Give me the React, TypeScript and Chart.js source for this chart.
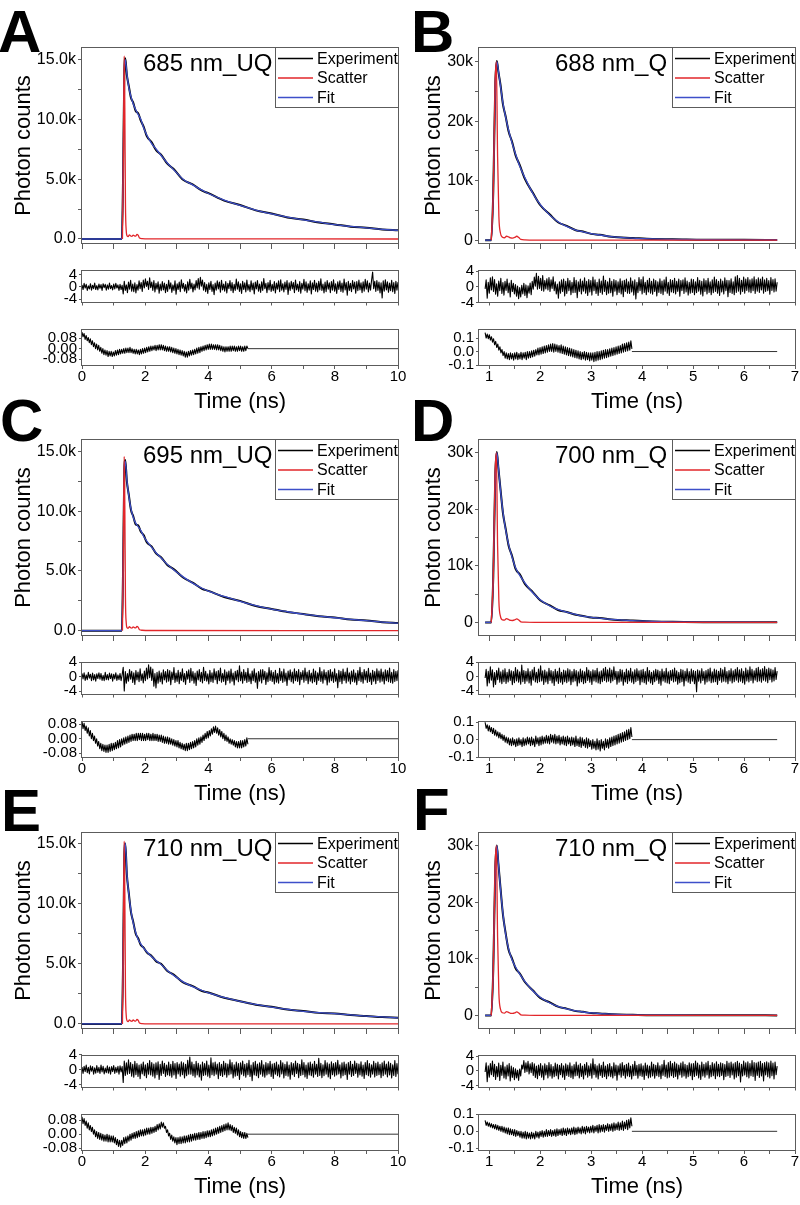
import React, { useEffect, useRef } from "react";
import { Chart, registerables } from "chart.js";
Chart.register(...registerables);

const FONT = '"Liberation Sans", Arial, Helvetica, sans-serif';

// ---------------- data ----------------
// Main decay curves: time grids (ns) and photon counts
const T_UQ = [0, 1.26, 1.30, 1.34, 1.37, 1.42, 1.48, 1.55, 1.62, 1.70, 1.78, 1.86, 1.95, 2.05, 2.2, 2.35, 2.5, 2.7, 2.9, 3.2, 3.5, 3.8, 4.0, 4.5, 5.0, 5.5, 6.0, 6.5, 7.0, 7.5, 8.0, 8.5, 9.0, 9.5, 10];
const T_Q = [0.92, 1.04, 1.08, 1.12, 1.15, 1.18, 1.22, 1.27, 1.32, 1.38, 1.45, 1.52, 1.6, 1.7, 1.86, 2.0, 2.19, 2.35, 2.52, 2.7, 2.84, 3.0, 3.17, 3.4, 3.82, 4.2, 4.6, 5.2, 6.0, 6.65];

const FIT_A = [0, 0, 5000, 14000, 15000, 13800, 12700, 11900, 11300, 10800, 10400, 10000, 9300, 8700, 8000, 7500, 7000, 6350, 5800, 5000, 4520, 4080, 3800, 3250, 2800, 2420, 2100, 1830, 1600, 1400, 1200, 1050, 920, 810, 720];
const EXP_A = [0, 0, 5200, 14100, 15100, 13700, 12800, 11800, 11400, 10700, 10500, 9900, 9400, 8600, 8100, 7400, 7050, 6300, 5850, 4950, 4560, 4040, 3830, 3210, 2840, 2390, 2130, 1800, 1620, 1380, 1220, 1030, 940, 800, 730];
const FIT_C = [0, 0, 5000, 13500, 14200, 12600, 11300, 10200, 9500, 9000, 8700, 8400, 7900, 7500, 7000, 6500, 6100, 5550, 5100, 4500, 3980, 3550, 3300, 2860, 2460, 2100, 1800, 1580, 1380, 1220, 1080, 950, 830, 710, 620];
const EXP_C = [0, 0, 5100, 13600, 14300, 12500, 11400, 10100, 9600, 8900, 8800, 8300, 8000, 7400, 7050, 6450, 6150, 5500, 5150, 4450, 4020, 3500, 3330, 2820, 2490, 2070, 1820, 1560, 1400, 1200, 1100, 930, 850, 700, 630];
const FIT_E = [0, 0, 5000, 14000, 15000, 12500, 10800, 9400, 8400, 7600, 7000, 6650, 6300, 6000, 5600, 5250, 4950, 4450, 4050, 3500, 3100, 2780, 2580, 2200, 1870, 1620, 1400, 1220, 1050, 940, 860, 760, 650, 580, 510];
const EXP_E = [0, 0, 5100, 14100, 15000, 12400, 10900, 9300, 8500, 7500, 7100, 6550, 6350, 5950, 5650, 5200, 5000, 4400, 4100, 3450, 3140, 2740, 2610, 2170, 1890, 1600, 1420, 1200, 1070, 920, 870, 740, 660, 570, 520];

const FIT_B = [0, 0, 8000, 26000, 30000, 28500, 26000, 23000, 20800, 18500, 16300, 14400, 12400, 10500, 7800, 6000, 4200, 3100, 2300, 1700, 1400, 1100, 860, 600, 330, 200, 130, 70, 30, 20];
const EXP_B = [0, 0, 8200, 26300, 30100, 28300, 26200, 22800, 20900, 18300, 16500, 14200, 12600, 10300, 7900, 5900, 4300, 3000, 2400, 1650, 1450, 1050, 900, 570, 360, 180, 150, 60, 50, 10];
const FIT_D = [0, 0, 8000, 26000, 30000, 27500, 23500, 19500, 16500, 13800, 11500, 9600, 8300, 7000, 5200, 4000, 2900, 2300, 1800, 1400, 1100, 900, 750, 550, 300, 180, 110, 60, 30, 20];
const EXP_D = [0, 0, 8100, 26200, 30100, 27300, 23700, 19300, 16700, 13600, 11700, 9400, 8500, 6800, 5300, 3900, 3000, 2200, 1850, 1350, 1150, 850, 780, 520, 320, 160, 120, 50, 40, 10];
const FIT_F = [0, 0, 8000, 26000, 30000, 27000, 22500, 18000, 14500, 11800, 9800, 8500, 7300, 6000, 4300, 3200, 2200, 1600, 1150, 800, 600, 450, 330, 220, 100, 60, 40, 20, 10, 10];
const EXP_F = [0, 0, 8200, 26100, 30000, 26800, 22700, 17800, 14700, 11600, 10000, 8300, 7400, 5900, 4400, 3100, 2300, 1550, 1200, 760, 630, 420, 350, 200, 110, 50, 50, 10, 20, 0];

// Scatter (instrument response)
const SC_T_UQ = [1.28, 1.31, 1.335, 1.355, 1.375, 1.40, 1.43, 1.46, 1.50, 1.54, 1.58, 1.62, 1.66, 1.70, 1.74, 1.78, 1.82, 1.9, 2.1, 10];
const SC_A = [0, 7000, 15300, 11000, 3000, 700, 250, 200, 350, 250, 220, 330, 260, 240, 380, 300, 80, 30, 10, 0];
const SC_C = [0, 7000, 14600, 10500, 2800, 650, 230, 200, 330, 240, 210, 320, 250, 230, 360, 280, 70, 30, 10, 0];
const SC_E = [0, 7000, 15200, 11000, 3000, 700, 250, 200, 340, 250, 220, 330, 260, 240, 370, 290, 80, 30, 10, 0];
const SC_T_Q = [1.04, 1.08, 1.115, 1.14, 1.165, 1.19, 1.22, 1.26, 1.30, 1.34, 1.38, 1.42, 1.46, 1.50, 1.54, 1.58, 1.62, 1.7, 1.9, 6.65];
const SC_B = [0, 8000, 26000, 30000, 14000, 4000, 1200, 500, 400, 650, 550, 380, 350, 450, 650, 450, 120, 40, 10, 0];
const SC_D = [0, 8000, 26000, 30000, 13500, 3800, 1100, 450, 420, 680, 520, 360, 340, 430, 620, 430, 110, 40, 10, 0];
const SC_F = [0, 8000, 26000, 30000, 13800, 3900, 1150, 480, 410, 660, 540, 370, 350, 440, 640, 440, 115, 40, 10, 0];

// Weighted residuals (evenly spaced channels over the fit window)
const RES_SPAN_UQ = [0, 10];
const RES_SPAN_Q = [0.92, 6.65];
const RES_A = [
  0.6, -0.9, 1.1, -0.4, 0.8, -1.2, 0.3, -0.7, 1.0, -1.1, 0.5, -0.6, 1.2, -0.9, 0.4, -1.0, 0.9, -0.5, 0.7, -1.2,
  1.0, -0.3, 0.8, -1.1, 0.6, -0.8, 1.2, -0.6, 0.4, -1.0, 0.9, -0.7, 1.1, -0.4, 0.6, -1.2, 0.8, -0.9, 0.5, -2.3,
  1.8, -1.2, 0.6, -1.9, 1.5, -0.8, 2.1, -1.4, 0.9, -1.6, 1.3, -2.0, 0.7, -1.1, 1.9, -0.6, 1.4, -1.5, 2.2, -0.4,
  2.6, 0.1, 1.8, -0.9, 2.9, -0.3, 1.5, -1.2, 2.0, -1.7, 1.1, -0.8, 1.6, -2.1, 0.9, -1.3, 1.7, -1.0, 1.2, -1.9,
  0.8, -1.5, 2.1, -0.7, 1.3, -1.8, 0.6, -1.2, 1.9, -2.4, 1.0, -0.9, 1.5, -1.6, 2.3, -0.5, 1.1, -1.4, 0.7, -2.0,
  1.6, -1.1, 2.4, -0.6, 1.2, -1.7, 0.9, -1.0, 2.0, -0.4, 2.7, -0.8, 3.1, 0.2, 2.2, -1.1, 1.4, -1.6, 0.8, -2.2,
  1.3, -0.9, 1.8, -1.5, 0.7, -2.6, 1.2, -1.1, 1.9, -0.7, 1.5, -1.8, 2.1, -1.0, 0.9, -1.4, 1.7, -2.0, 1.1, -0.6,
  2.0, -1.3, 1.4, -1.9, 0.8, -1.2, 2.5, -0.8, 1.6, -1.5, 1.0, -2.2, 1.8, -0.9, 1.3, -1.7, 2.2, -1.1, 0.7, -1.6,
  1.9, -1.0, 1.2, -2.3, 1.5, -0.7, 2.0, -1.4, 0.9, -1.8, 1.6, -1.2, 2.7, -0.6, 1.1, -1.9, 1.4, -1.0, 2.1, -1.5,
  0.8, -1.3, 1.7, -2.0, 1.2, -0.8, 1.9, -1.6, 2.3, -1.1, 1.0, -1.7, 1.5, -0.9, 2.0, -2.5, 1.3, -1.2, 1.8, -0.7,
  1.4, -1.9, 2.2, -1.0, 0.9, -1.5, 1.7, -2.1, 1.1, -0.8, 2.4, -1.3, 1.6, -1.8, 1.0, -1.1, 1.9, -2.3, 1.3, -0.9,
  2.1, -1.4, 1.2, -1.7, 1.8, -1.0, 2.6, -1.2, 0.9, -2.0, 1.5, -1.6, 2.0, -0.8, 1.3, -1.9, 1.7, -1.1, 2.3, -1.4,
  1.0, -2.2, 1.6, -0.9, 1.9, -1.5, 1.2, -1.8, 2.5, -1.0, 1.4, -2.7, 1.8, -1.2, 1.1, -1.6, 2.0, -0.7, 1.5, -2.1,
  1.7, -1.3, 2.2, -1.0, 1.3, -1.9, 1.6, -1.4, 2.4, -0.8, 1.9, -1.7, 1.2, -1.1, 2.1, 4.8, -0.6, 1.8, -1.5, 2.0,
  -1.2, 1.5, -2.0, 1.3, -3.6, 1.9, -1.4, 2.3, -1.0, 1.6, -1.8, 1.2, -1.3, 2.1, -1.6, 1.4, -2.2, 1.8, -1.1, 1.5,
];
const RES_C = [
  0.9, -0.6, 1.1, -1.0, 0.5, -0.8, 1.2, -0.4, 0.7, -1.1, 1.0, -0.9, 0.6, -1.2, 0.8, -0.5, 1.1, -0.7, 0.9, -1.0,
  0.4, -1.1, 1.2, -0.8, 0.6, -0.9, 1.0, -0.5, 0.8, -1.2, 0.7, -0.6, 1.1, -1.0, 0.5, -0.8, 0.9, -1.1, 0.6, 2.6,
  -3.9, 1.4, -1.8, 0.9, -1.2, 2.0, -0.7, 1.5, -1.6, 1.1, -2.1, 1.7, -0.9, 1.3, -1.4, 2.2, -1.0, 0.8, -1.7, 1.6,
  -1.1, 2.4, -0.6, 3.3, -0.3, 2.7, -1.0, 2.1, -2.6, 0.9, -3.1, 1.2, -1.8, 1.6, -1.4, 1.1, -2.0, 1.9, -0.9, 1.4,
  -1.5, 2.0, -1.2, 1.7, -2.2, 1.3, -0.8, 2.5, -1.6, 1.0, -1.3, 1.8, -1.9, 1.2, -1.0, 2.2, -1.4, 0.9, -2.1, 1.5,
  -0.7, 1.9, -1.6, 2.3, -1.1, 1.4, -1.8, 1.0, -2.4, 1.6, -0.9, 2.0, -1.3, 1.2, -1.7, 2.6, -1.0, 1.5, -1.2, 0.8,
  -2.0, 1.8, -1.4, 1.1, -1.6, 2.2, -0.8, 1.4, -1.9, 1.7, -1.1, 2.4, -1.5, 0.9, -1.3, 1.9, -2.2, 1.3, -1.0, 1.6,
  -1.7, 2.1, -1.2, 1.0, -2.3, 1.5, -0.9, 1.8, -1.4, 3.0, -1.1, 1.3, -1.8, 2.0, -1.0, 1.2, -1.6, 2.3, -1.3, 0.8,
  -1.9, 1.6, -1.1, 2.2, -1.5, 1.0, -3.2, 1.4, -1.2, 1.9, -1.7, 2.0, -0.8, 1.5, -2.1, 1.1, -1.4, 2.5, -1.0, 1.7,
  -1.3, 1.2, -2.0, 1.8, -1.5, 0.9, -1.8, 2.3, -1.0, 1.4, -1.6, 2.1, -1.2, 1.0, -2.4, 1.6, -0.9, 1.9, -1.4, 1.3,
  -1.8, 2.2, -1.1, 1.5, -1.3, 2.0, -2.2, 1.2, -0.8, 1.7, -1.5, 2.4, -1.0, 1.3, -1.9, 1.8, -1.2, 1.0, -1.7, 2.1,
  -1.4, 1.6, -2.1, 1.1, -1.0, 2.5, -1.3, 1.4, -1.8, 1.9, -0.9, 1.2, -2.3, 1.7, -1.5, 2.0, -1.1, 1.3, -1.6, 2.2,
  -1.2, 0.9, -3.0, 1.8, -1.4, 1.5, -1.9, 2.1, -1.0, 1.3, -1.7, 2.4, -1.2, 1.1, -2.0, 1.6, -1.3, 1.9, -1.5, 1.0,
  -2.2, 1.7, -1.1, 2.6, -1.4, 1.2, -1.8, 2.0, -0.9, 1.5, -1.6, 2.3, -1.3, 1.0, -2.1, 1.8, -1.2, 1.4, -1.9, 2.2,
  -1.0, 1.6, -1.5, 2.1, -1.2, 1.3, -2.0, 1.9, -1.1, 1.7, -1.4, 2.4, -1.6, 1.2, -1.8, 2.0, -1.3, 1.5, -1.1, 1.8,
];
const RES_E = [
  0.7, -1.0, 0.9, -0.5, 1.2, -0.8, 0.6, -1.1, 1.0, -0.4, 0.8, -1.2, 0.5, -0.9, 1.1, -0.7, 0.6, -1.0, 1.2, -0.6,
  0.9, -1.1, 0.4, -0.8, 1.0, -0.9, 0.7, -1.2, 0.8, -0.5, 1.1, -1.0, 0.6, -0.7, 0.9, -1.2, 1.0, -0.6, 0.8, -3.4,
  2.3, -1.5, 1.8, -1.2, 2.6, -1.0, 1.9, -1.7, 1.4, -2.0, 2.2, -1.3, 1.6, -1.8, 1.2, -2.4, 1.5, -1.1, 2.0, -1.6,
  1.3, -2.1, 1.7, -1.2, 2.4, -1.4, 1.9, -1.7, 1.5, -2.2, 1.8, -1.3, 2.1, -2.6, 1.4, -1.5, 2.3, -1.0, 1.7, -1.8,
  1.2, -1.4, 2.0, -1.6, 1.4, -2.0, 2.2, -1.4, 1.6, -2.3, 1.9, -1.1, 1.5, -1.7, 2.1, -1.3, 1.8, -2.2, 1.4, -1.6,
  2.5, -1.2, 3.3, -1.2, 2.0, -1.6, 1.4, -2.0, 2.2, -1.4, 1.7, -1.9, 1.3, -2.8, 2.0, -1.5, 1.6, -1.4, 2.3, -1.7,
  1.2, -2.1, 3.1, -1.3, 1.8, -1.6, 2.0, -1.2, 1.5, -2.4, 1.9, -1.5, 1.4, -1.8, 2.2, -1.3, 1.7, -2.0, 1.5, -1.4,
  2.6, -1.1, 1.9, -2.2, 1.3, -1.7, 2.0, -1.5, 1.6, -2.6, 1.8, -1.2, 2.3, -1.6, 1.4, -2.0, 1.7, -1.3, 2.5, -1.8,
  1.2, -2.9, 1.9, -1.4, 2.2, -1.6, 1.5, -2.1, 1.8, -1.2, 2.4, -1.7, 1.3, -2.0, 1.9, -1.4, 1.6, -1.1, 2.2, -1.8,
  1.5, -2.3, 1.7, -1.2, 2.0, -1.6, 1.3, -1.9, 2.4, -1.1, 1.8, -2.2, 1.4, -1.5, 2.1, -1.7, 1.2, -2.5, 1.9, -1.3,
  1.6, -1.8, 2.3, -1.0, 1.7, -2.1, 1.4, -1.5, 2.6, -1.3, 1.9, -1.9, 1.2, -2.3, 1.8, -1.4, 2.0, -1.6, 1.5, -2.0,
  2.2, -1.2, 1.4, -1.8, 3.0, -1.5, 1.7, -2.1, 1.3, -1.6, 2.4, -1.2, 1.8, -1.9, 1.5, -2.4, 2.1, -1.3, 1.6, -1.7,
  1.9, -1.4, 2.5, -1.1, 1.3, -2.2, 1.8, -1.6, 2.0, -1.3, 1.5, -2.6, 1.9, -1.2, 2.2, -1.8, 1.4, -1.5, 2.3, -1.0,
  1.7, -2.0, 1.5, -1.4, 2.1, -1.7, 1.2, -2.3, 1.9, -1.3, 2.4, -1.6, 1.6, -2.0, 1.3, -1.2, 2.2, -1.9, 1.7, -1.5,
  2.0, -1.3, 1.4, -2.1, 1.8, -1.6, 2.3, -1.2, 1.5, -1.9, 2.1, -1.4, 1.7, -2.2, 1.3, -1.5, 2.4, -1.8, 1.6, -1.2,
];
const RES_B = [
  -0.5, 1.8, -2.9, 1.2, -1.6, 2.3, -0.8, 2.6, -1.2, 1.9, -1.9, 0.8, -2.4, 1.5, -1.0, 2.2, -1.7, 1.1, -2.1, 1.4,
  -0.9, 2.0, -1.5, 1.0, -2.6, 1.7, -1.2, 0.9, -1.8, 0.6, -2.4, 0.2, -3.0, -0.2, -2.6, 0.4, -1.8, 0.9, -2.2, 0.5,
  -2.8, 0.3, -1.6, 1.0, -2.0, 1.4, -0.6, 2.5, 0.2, 3.5, -0.6, 2.7, -0.4, 2.2, -0.9, 2.9, -1.1, 1.6, -0.5, 2.1,
  -0.8, 2.4, -1.2, 1.8, -0.4, 2.6, -1.0, 1.3, -1.8, 0.7, -2.9, 1.3, -1.6, 1.8, -1.2, 2.0, -2.3, 1.4, -1.7, 2.2,
  -1.0, 1.6, -2.0, 1.2, -1.5, 2.4, -1.4, 1.7, -2.8, 1.3, -1.2, 2.0, -1.8, 1.5, -1.1, 2.3, -1.6, 1.4, -2.2, 1.9,
  -1.3, 1.6, -2.1, 2.5, -1.0, 1.8, -1.7, 1.2, -2.2, 2.0, -1.4, 1.5, -1.9, 2.8, -1.2, 1.7, -2.0, 1.3, -1.6, 2.2,
  -1.5, 1.4, -2.4, 1.9, -1.1, 1.6, -2.0, 1.3, -1.4, 2.1, -1.8, 1.5, -2.5, 1.7, -1.2, 2.0, -1.6, 1.3, -1.7, 2.3,
  -1.3, 1.5, -2.1, 1.8, -3.1, 1.2, -1.5, 2.4, -1.0, 1.9, -1.8, 2.6, -1.4, 1.2, -2.0, 1.7, -1.3, 2.2, -1.6, 1.4,
  -1.9, 2.0, -1.2, 1.6, -2.3, 1.3, -1.4, 2.1, -1.7, 1.5, -2.0, 1.8, -1.1, 2.5, -1.6, 1.2, -2.2, 1.9, -1.3, 1.7,
  -1.5, 2.2, -1.8, 1.4, -1.2, 2.0, -2.4, 1.6, -1.0, 1.8, -1.7, 2.3, -1.3, 1.5, -2.1, 1.2, -1.6, 2.0, -1.4, 1.9,
  -2.0, 1.3, -1.5, 2.4, -1.1, 1.7, -1.9, 1.4, -2.3, 2.1, -1.2, 1.6, -1.8, 2.2, -1.4, 1.3, -2.0, 1.8, -1.5, 2.5,
  -1.2, 1.9, -1.6, 1.4, -2.2, 2.0, -1.3, 1.5, -1.8, 2.3, -1.0, 1.7, -2.5, 1.6, -1.4, 2.1, -1.7, 1.3, -2.0, 2.6,
  -1.4, 2.9, -1.1, 2.2, -1.9, 1.7, -1.2, 2.5, -1.6, 2.0, -0.9, 2.4, -1.3, 1.8, -1.5, 2.1, -1.0, 2.6, -1.7, 1.9,
  -1.1, 2.3, -1.4, 2.0, -0.8, 2.5, -1.6, 1.8, -1.2, 2.2, -1.0, 1.6, -1.9, 2.4, -0.9, 1.9, -1.3, 2.1, -1.1, 1.2,
];
const RES_D = [
  -0.4, 2.0, -2.6, 1.5, -1.8, 2.7, -1.0, 1.9, -2.9, 1.1, -2.2, 1.7, -0.9, 2.4, -1.6, 1.3, -2.0, 1.8, -1.4, 2.2,
  -1.9, 1.2, -1.5, 2.0, -1.1, 1.6, -2.3, 1.4, -1.7, 2.5, -1.2, 1.9, -1.6, 1.3, -2.1, 3.2, -1.4, 1.7, -1.9, 1.5,
  -1.3, 2.2, -1.8, 1.4, -2.4, 1.9, -1.0, 2.6, -1.5, 1.2, -1.7, 2.1, -1.4, 3.0, -1.2, 1.6, -2.2, 1.8, -1.5, 1.3,
  -2.0, 2.3, -1.1, 1.7, -1.8, 1.4, -2.5, 2.0, -1.3, 1.5, -1.9, 2.4, -1.6, 1.2, -2.1, 1.8, -1.4, 1.6, -1.7, 2.2,
  -1.3, 1.9, -2.3, 1.4, -1.5, 2.0, -1.2, 1.7, -2.6, 1.3, -1.8, 2.1, -1.4, 1.6, -2.0, 1.3, -1.7, 2.5, -1.1, 1.8,
  -1.6, 1.4, -2.2, 1.9, -1.2, 1.7, -1.5, 2.3, -1.8, 1.3, -2.0, 1.6, -1.4, 2.2, -1.1, 2.6, -1.5, 1.9, -1.3, 2.4,
  -1.7, 1.8, -1.2, 2.7, -0.8, 1.5, -2.1, 1.4, -1.6, 2.0, -1.3, 1.8, -2.4, 1.2, -1.5, 2.1, -1.9, 1.6, -1.2, 2.3,
  -1.6, 1.3, -2.0, 1.9, -1.4, 2.2, -1.1, 1.6, -2.3, 1.8, -1.5, 2.0, -1.7, 1.4, -2.1, 2.5, -1.3, 1.7, -1.8, 1.2,
  -2.2, 1.6, -1.4, 2.0, -1.0, 1.8, -1.9, 1.5, -2.4, 2.1, -1.2, 1.4, -1.6, 2.3, -1.8, 1.3, -2.0, 1.7, -1.1, 1.9,
  -1.5, 2.4, -1.3, 1.6, -2.1, 1.2, -1.7, 2.0, -1.4, 1.8, -2.6, 1.5, -1.2, 2.2, -1.6, 1.4, -1.9, 2.1, -1.3, 1.7,
  -2.0, 1.5, -4.2, 1.9, -1.3, 1.6, -1.8, 2.2, -1.1, 1.4, -2.1, 1.7, -1.5, 2.0, -1.2, 2.4, -1.7, 1.3, -1.6, 2.1,
  -1.4, 1.8, -2.2, 1.5, -1.1, 2.3, -1.6, 1.9, -1.3, 2.6, -1.5, 1.4, -2.0, 1.7, -1.2, 2.2, -1.8, 1.6, -1.4, 2.0,
  -1.0, 2.5, -1.6, 1.9, -1.3, 2.2, -1.7, 1.5, -2.1, 2.4, -1.2, 1.8, -1.5, 2.7, -1.1, 2.0, -1.8, 1.6, -1.0, 2.3,
  -1.4, 2.6, -1.2, 1.9, -1.6, 2.2, -1.0, 2.8, -1.3, 2.0, -1.7, 2.4, -0.9, 2.1, -1.5, 1.8, -1.2, 2.5, -0.8, 1.5,
];
const RES_F = [
  -0.3, 2.2, -2.9, 1.4, -1.7, 2.0, -1.0, 2.7, -1.5, 1.8, -2.3, 1.2, -1.6, 2.1, -2.6, 1.5, -1.2, 2.4, -1.9, 1.1,
  -2.2, 1.6, -1.4, 2.0, -2.7, 1.3, -1.8, 0.9, -2.4, 0.6, -1.9, 0.2, -2.6, 0.5, -1.4, 1.6, 0.5, 2.8, -0.4, 2.2,
  -0.2, 2.6, -0.8, 1.9, -0.5, 2.3, -1.2, 1.9, -1.8, 1.3, -2.1, 1.6, -1.2, 2.0, -1.7, 1.4, -2.4, 1.9, -1.1, 1.5,
  -1.9, 2.3, -1.4, 1.7, -2.0, 1.2, -1.6, 2.1, -1.3, 1.8, -2.2, 1.5, -1.0, 2.0, -1.7, 1.4, -2.3, 1.9, -1.2, 1.6,
  -1.5, 2.2, -1.8, 1.3, -2.1, 1.7, -1.4, 2.4, -1.2, 1.6, -1.9, 2.0, -1.5, 1.3, -2.2, 1.8, -1.1, 2.3, -1.7, 1.4,
  -1.3, 1.9, -2.0, 3.3, -1.0, 1.8, -1.7, 1.4, -2.2, 1.9, -1.2, 1.5, -1.8, 2.4, -1.5, 1.3, -2.1, 1.7, -1.4, 2.0,
  -1.6, 1.2, -1.9, 2.2, -1.3, 1.6, -2.5, 1.4, -1.1, 1.9, -1.7, 2.3, -1.2, 1.5, -2.0, 1.8, -1.4, 2.1, -1.6, 1.3,
  -2.2, 1.7, -1.3, 2.6, -1.2, 1.5, -2.0, 1.8, -1.3, 1.9, -1.5, 1.4, -2.3, 2.1, -1.2, 1.6, -1.9, 1.3, -1.7, 2.4,
  -1.4, 1.8, -2.0, 1.5, -1.3, 2.2, -1.6, 1.4, -2.1, 1.7, -1.2, 2.9, -1.5, 1.6, -1.9, 2.3, -1.7, 2.6, -1.3, 2.0,
  -1.8, 2.4, -1.5, 1.9, -2.2, 1.6, -1.1, 2.1, -1.7, 2.5, -1.4, 1.8, -2.0, 1.5, -1.6, 2.2, -1.3, 1.9, -2.4, 2.0,
  -1.5, 2.7, -1.2, 2.1, -1.9, 1.6, -2.3, 2.4, -1.4, 1.8, -1.7, 2.2, -1.1, 2.6, -2.0, 1.5, -1.6, 2.3, -1.3, 1.9,
  -2.1, 2.5, -1.4, 1.8, -1.6, 2.2, -1.2, 2.0, -2.4, 1.7, -1.5, 2.6, -1.3, 2.1, -1.8, 2.4, -1.1, 1.9, -2.2, 2.3,
  -1.7, 2.6, -1.3, 2.1, -3.0, 1.8, -1.4, 2.7, -1.1, 2.2, -1.6, 2.5, -1.9, 2.0, -1.3, 2.8, -1.5, 2.3, -2.6, 2.1,
  -1.2, 2.4, -1.8, 2.6, -1.4, 2.0, -2.7, 2.3, -1.1, 2.5, -1.6, 2.2, -1.9, 2.7, -1.3, 2.1, -2.2, 2.4, -1.0, 1.3,
];

// Autocorrelation of residuals
const AC_SPAN_UQ = [0, 5.25];
const AC_SPAN_Q = [0.92, 3.8];
const AC_TAIL_UQ = [5.25, 10];
const AC_TAIL_Q = [3.8, 6.65];
const AC_TAIL_V = [0, 0];
const AC_A = [
  0.125, 0.09, 0.115, 0.07, 0.10, 0.06, 0.085, 0.045, 0.075, 0.03, 0.06, 0.015, 0.045, 0.0, 0.035, -0.01, 0.025, -0.02, 0.01, -0.035,
  0.0, -0.045, -0.01, -0.05, -0.015, -0.06, -0.02, -0.055, -0.02, -0.06, -0.025, -0.055, -0.015, -0.05, -0.01, -0.045, -0.005, -0.04, -0.005, -0.035,
  0.0, -0.035, 0.005, -0.03, 0.005, -0.03, 0.01, -0.03, 0.0, -0.035, -0.005, -0.04, -0.005, -0.04, -0.01, -0.045, -0.005, -0.04, 0.0, -0.035,
  0.005, -0.03, 0.01, -0.025, 0.015, -0.02, 0.02, -0.015, 0.02, -0.01, 0.025, -0.015, 0.025, -0.01, 0.03, -0.01, 0.03, -0.01, 0.025, -0.015,
  0.02, -0.02, 0.015, -0.02, 0.015, -0.025, 0.01, -0.03, 0.005, -0.035, 0.0, -0.04, -0.005, -0.045, -0.01, -0.05, -0.015, -0.055, -0.02, -0.065,
  -0.025, -0.065, -0.02, -0.055, -0.015, -0.05, -0.01, -0.045, -0.005, -0.04, 0.005, -0.035, 0.01, -0.03, 0.015, -0.02, 0.02, -0.015, 0.025, -0.01,
  0.03, -0.005, 0.035, -0.005, 0.035, -0.005, 0.03, -0.005, 0.03, -0.01, 0.03, -0.01, 0.025, -0.015, 0.02, -0.02, 0.015, -0.025, 0.015, -0.02,
  0.015, -0.02, 0.02, -0.02, 0.02, -0.015, 0.02, -0.02, 0.015, -0.02, 0.02, -0.015, 0.02, -0.02, 0.015, -0.02, 0.02, -0.015, 0.02, 0.0,
];
const AC_C = [
  0.095, 0.055, 0.085, 0.045, 0.07, 0.03, 0.06, 0.015, 0.045, 0.0, 0.03, -0.01, 0.015, -0.025, 0.0, -0.04, -0.015, -0.055, -0.025, -0.065,
  -0.03, -0.07, -0.035, -0.075, -0.035, -0.075, -0.03, -0.07, -0.025, -0.065, -0.025, -0.06, -0.02, -0.055, -0.01, -0.05, -0.005, -0.045, 0.0, -0.035,
  0.005, -0.03, 0.01, -0.025, 0.015, -0.02, 0.02, -0.015, 0.025, -0.01, 0.025, -0.01, 0.03, -0.01, 0.03, -0.005, 0.03, -0.01, 0.03, -0.01,
  0.025, -0.01, 0.03, -0.005, 0.03, -0.01, 0.025, -0.01, 0.03, -0.01, 0.025, -0.01, 0.025, -0.015, 0.02, -0.015, 0.02, -0.02, 0.015, -0.025,
  0.01, -0.025, 0.01, -0.03, 0.005, -0.03, 0.0, -0.035, -0.005, -0.04, -0.01, -0.045, -0.01, -0.05, -0.02, -0.055, -0.025, -0.06, -0.03, -0.065,
  -0.025, -0.065, -0.025, -0.06, -0.02, -0.055, -0.015, -0.05, -0.01, -0.045, 0.0, -0.035, 0.005, -0.03, 0.01, -0.02, 0.02, -0.01, 0.03, 0.0,
  0.04, 0.005, 0.045, 0.015, 0.055, 0.025, 0.065, 0.035, 0.07, 0.03, 0.06, 0.02, 0.05, 0.01, 0.04, 0.0, 0.03, -0.01, 0.02, -0.015,
  0.01, -0.025, 0.0, -0.03, -0.005, -0.035, -0.01, -0.045, -0.015, -0.05, -0.015, -0.05, -0.01, -0.05, -0.01, -0.045, -0.005, -0.04, 0.005, -0.03,
];
const AC_E = [
  0.1, 0.06, 0.09, 0.05, 0.075, 0.035, 0.065, 0.025, 0.05, 0.015, 0.04, 0.0, 0.025, -0.015, 0.015, -0.025, 0.01, -0.03, 0.005, -0.035,
  0.0, -0.04, -0.005, -0.04, 0.0, -0.045, -0.005, -0.045, -0.01, -0.045, -0.01, -0.05, -0.02, -0.06, -0.03, -0.07, -0.035, -0.075, -0.035, -0.065,
  -0.02, -0.055, -0.015, -0.05, -0.01, -0.04, 0.0, -0.035, 0.005, -0.025, 0.01, -0.025, 0.015, -0.02, 0.02, -0.015, 0.025, -0.01, 0.025, -0.01,
  0.03, -0.005, 0.035, 0.0, 0.035, 0.0, 0.04, 0.005, 0.04, 0.01, 0.045, 0.015, 0.055, 0.025, 0.06, 0.03, 0.07, 0.04, 0.065, 0.035,
  0.045, 0.01, 0.025, -0.01, 0.005, -0.03, -0.005, -0.04, -0.015, -0.05, -0.02, -0.06, -0.02, -0.055, -0.015, -0.055, -0.015, -0.05, -0.01, -0.05,
  -0.01, -0.045, -0.005, -0.045, 0.0, -0.04, 0.0, -0.035, 0.005, -0.035, 0.005, -0.03, 0.01, -0.03, 0.01, -0.025, 0.015, -0.025, 0.015, -0.02,
  0.02, -0.015, 0.02, -0.015, 0.025, -0.01, 0.03, -0.005, 0.035, 0.0, 0.04, 0.005, 0.045, 0.01, 0.05, 0.015, 0.055, 0.02, 0.06, 0.025,
  0.065, 0.025, 0.055, 0.02, 0.05, 0.01, 0.04, 0.005, 0.035, -0.005, 0.025, -0.015, 0.015, -0.02, 0.01, -0.025, 0.01, -0.025, 0.005, -0.02,
];
const AC_B = [
  0.14, 0.1, 0.13, 0.095, 0.125, 0.085, 0.11, 0.07, 0.095, 0.05, 0.075, 0.03, 0.055, 0.01, 0.035, -0.01, 0.015, -0.03, 0.0, -0.05,
  -0.01, -0.055, -0.015, -0.06, -0.01, -0.055, -0.015, -0.065, -0.01, -0.055, -0.005, -0.06, -0.015, -0.055, -0.005, -0.06, -0.01, -0.05, -0.005, -0.06,
  0.0, -0.05, 0.0, -0.045, 0.005, -0.04, 0.01, -0.035, 0.015, -0.025, 0.025, -0.025, 0.03, -0.02, 0.035, -0.015, 0.04, -0.01, 0.045, -0.005,
  0.05, 0.0, 0.055, 0.0, 0.06, -0.005, 0.055, 0.0, 0.05, -0.005, 0.045, -0.01, 0.05, -0.015, 0.04, -0.02, 0.035, -0.025, 0.03, -0.03,
  0.025, -0.035, 0.02, -0.04, 0.015, -0.045, 0.01, -0.05, 0.005, -0.055, 0.0, -0.06, -0.005, -0.055, 0.0, -0.065, -0.005, -0.06, -0.01, -0.07,
  -0.01, -0.065, -0.01, -0.075, -0.005, -0.07, 0.0, -0.065, 0.0, -0.06, 0.005, -0.055, 0.01, -0.05, 0.015, -0.045, 0.015, -0.04, 0.02, -0.035,
  0.025, -0.03, 0.03, -0.025, 0.035, -0.02, 0.04, -0.015, 0.045, -0.01, 0.055, -0.005, 0.06, 0.0, 0.065, 0.005, 0.07, 0.01, 0.08, 0.02,
];
const AC_D = [
  0.1, 0.065, 0.085, 0.05, 0.08, 0.045, 0.07, 0.035, 0.065, 0.025, 0.055, 0.02, 0.045, 0.01, 0.04, 0.005, 0.03, -0.005, 0.025, -0.015,
  0.015, -0.02, 0.01, -0.03, 0.005, -0.035, 0.01, -0.03, 0.0, -0.04, 0.005, -0.035, 0.01, -0.03, 0.0, -0.04, 0.01, -0.035, 0.005, -0.03,
  0.015, -0.025, 0.01, -0.035, 0.015, -0.03, 0.005, -0.04, 0.02, -0.025, 0.01, -0.035, 0.015, -0.03, 0.02, -0.025, 0.015, -0.02, 0.025, -0.02,
  0.02, -0.025, 0.03, -0.015, 0.025, -0.02, 0.03, -0.025, 0.02, -0.02, 0.025, -0.03, 0.015, -0.025, 0.02, -0.03, 0.015, -0.035, 0.02, -0.025,
  0.01, -0.035, 0.015, -0.03, 0.01, -0.04, 0.02, -0.035, 0.005, -0.04, 0.015, -0.045, 0.01, -0.035, 0.0, -0.045, 0.01, -0.05, 0.005, -0.04,
  -0.005, -0.055, 0.0, -0.05, -0.01, -0.06, 0.005, -0.055, -0.005, -0.065, 0.0, -0.05, -0.01, -0.06, 0.005, -0.045, 0.0, -0.05, 0.01, -0.04,
  0.015, -0.035, 0.02, -0.03, 0.025, -0.025, 0.03, -0.02, 0.035, -0.015, 0.04, -0.01, 0.045, -0.005, 0.055, 0.0, 0.06, 0.005, 0.07, 0.015,
];
const AC_F = [
  0.065, 0.035, 0.055, 0.03, 0.05, 0.025, 0.045, 0.02, 0.04, 0.015, 0.04, 0.01, 0.035, 0.005, 0.03, 0.0, 0.03, -0.005, 0.025, -0.01,
  0.02, -0.015, 0.02, -0.02, 0.015, -0.02, 0.01, -0.025, 0.01, -0.03, 0.005, -0.025, 0.0, -0.035, 0.0, -0.04, -0.005, -0.04, 0.0, -0.045,
  -0.005, -0.04, -0.01, -0.045, -0.005, -0.04, -0.01, -0.045, 0.0, -0.035, -0.005, -0.04, 0.0, -0.03, 0.005, -0.035, 0.0, -0.03, 0.01, -0.03,
  0.005, -0.025, 0.01, -0.03, 0.005, -0.025, 0.01, -0.03, 0.015, -0.025, 0.01, -0.02, 0.015, -0.025, 0.02, -0.02, 0.015, -0.025, 0.02, -0.015,
  0.015, -0.02, 0.02, -0.015, 0.025, -0.02, 0.02, -0.015, 0.025, -0.01, 0.02, -0.015, 0.03, -0.01, 0.025, -0.015, 0.03, -0.005, 0.025, -0.01,
  0.03, -0.005, 0.035, -0.01, 0.03, 0.0, 0.035, -0.01, 0.04, -0.005, 0.035, 0.0, 0.04, -0.005, 0.035, 0.005, 0.045, 0.0, 0.04, 0.005,
  0.045, 0.0, 0.05, 0.005, 0.045, 0.01, 0.055, 0.005, 0.05, 0.01, 0.06, 0.005, 0.055, 0.015, 0.065, 0.01, 0.07, 0.02, 0.08, 0.03,
];

// Tick values and labels
const X_TICKS_UQ = [0, 1, 2, 3, 4, 5, 6, 7, 8, 9, 10];
const X_LABELS_UQ = ["0", "", "2", "", "4", "", "6", "", "8", "", "10"];
const X_TICKS_Q = [1, 1.5, 2, 2.5, 3, 3.5, 4, 4.5, 5, 5.5, 6, 6.5, 7];
const X_LABELS_Q = ["1", "", "2", "", "3", "", "4", "", "5", "", "6", "", "7"];
const Y_TICKS_UQ = [0, 2500, 5000, 7500, 10000, 12500, 15000];
const Y_LABELS_UQ = ["0.0", "", "5.0k", "", "10.0k", "", "15.0k"];
const Y_TICKS_Q = [0, 5000, 10000, 15000, 20000, 25000, 30000];
const Y_LABELS_Q = ["0", "", "10k", "", "20k", "", "30k"];
const RES_TICKS = [-4, 0, 4];
const RES_LABELS = ["-4", "0", "4"];
const AC_TICKS_UQ = [-0.08, 0, 0.08];
const AC_LABELS_UQ = ["-0.08", "0.00", "0.08"];
const AC_TICKS_Q = [-0.1, 0, 0.1];
const AC_LABELS_Q = ["-0.1", "0.0", "0.1"];

const LEGEND_NAMES = ["Experiment", "Scatter", "Fit"];

// ---------------- styling / layout ----------------
const C_EXP = "#000000";
const C_SC = "#e2262a";
const C_FIT = "#3d4fc9";
const C_FRAME = "#5c5c5c";
const COL_X = [0, 400];
const COL_W = [420, 400];
const BOX_L = [82, 479];
const BOX_R = [398, 795];
const ROW_TOP = [47, 439, 832];

type PanelDef = {
  letter: string; col: number; row: number; label: string; q: boolean;
  exp: number[]; fit: number[]; sc: number[]; res: number[]; ac: number[];
  yMain: number[]; yRes: number[]; yAc: number[];
};

const PANELS: PanelDef[] = [
  { letter: "A", col: 0, row: 0, label: "685 nm_UQ", q: false, exp: EXP_A, fit: FIT_A, sc: SC_A, res: RES_A, ac: AC_A, yMain: [-420, 16050], yRes: [-5.1, 5.6], yAc: [-0.124, 0.153] },
  { letter: "B", col: 1, row: 0, label: "688 nm_Q", q: true, exp: EXP_B, fit: FIT_B, sc: SC_B, res: RES_B, ac: AC_B, yMain: [-650, 32450], yRes: [-4, 4.45], yAc: [-0.1, 0.171] },
  { letter: "C", col: 0, row: 1, label: "695 nm_UQ", q: false, exp: EXP_C, fit: FIT_C, sc: SC_C, res: RES_C, ac: AC_C, yMain: [-450, 16050], yRes: [-4.9, 4.2], yAc: [-0.1, 0.1] },
  { letter: "D", col: 1, row: 1, label: "700 nm_Q", q: true, exp: EXP_D, fit: FIT_D, sc: SC_D, res: RES_D, ac: AC_D, yMain: [-2400, 32400], yRes: [-5, 4.2], yAc: [-0.1, 0.11] },
  { letter: "E", col: 0, row: 2, label: "710 nm_UQ", q: false, exp: EXP_E, fit: FIT_E, sc: SC_E, res: RES_E, ac: AC_E, yMain: [-420, 15950], yRes: [-4.7, 4.0], yAc: [-0.091, 0.119] },
  { letter: "F", col: 1, row: 2, label: "710 nm_Q", q: true, exp: EXP_F, fit: FIT_F, sc: SC_F, res: RES_F, ac: AC_F, yMain: [-2400, 32400], yRes: [-4.5, 4.45], yAc: [-0.11, 0.105] },
];

// ---------------- helpers ----------------
const pairs = (ts: number[], vs: number[]) => ts.map((t, i) => ({ x: t, y: vs[i] }));
const channels = (span: number[], vs: number[]) =>
  vs.map((v, i) => ({ x: span[0] + ((span[1] - span[0]) * i) / (vs.length - 1), y: v }));

const line = (data: any[], color: string, width: number, smooth = false) => ({
  data, borderColor: color, backgroundColor: color, borderWidth: width,
  pointRadius: 0, fill: false, tension: 0, borderJoinStyle: "round",
  cubicInterpolationMode: smooth ? "monotone" : "default",
});

function axis(o: {
  min: number; max: number; ticks: number[]; labels: string[]; size: number;
  horizontal: boolean; fontSize: number; showLabels: boolean; tickLen: number; pad: number; title?: any;
}) {
  return {
    type: "linear", min: o.min, max: o.max,
    afterBuildTicks: (s: any) => { s.ticks = o.ticks.map((v) => ({ value: v })); },
    afterFit: (s: any) => { if (o.horizontal) s.height = o.size; else s.width = o.size; },
    grid: { display: true, drawOnChartArea: false, drawTicks: true, tickLength: o.tickLen, color: C_FRAME, tickColor: C_FRAME, tickWidth: 1 },
    border: { display: false },
    ticks: {
      display: o.showLabels, autoSkip: false, maxRotation: 0, minRotation: 0, padding: o.pad, color: "#000",
      font: { family: FONT, size: o.fontSize, lineHeight: 1 },
      callback: (_v: any, i: number) => o.labels[i],
    },
    title: o.title ?? { display: false },
  };
}

const framePlugin = {
  id: "frame",
  afterDraw(chart: any) {
    const { ctx, chartArea: a } = chart;
    ctx.save();
    ctx.strokeStyle = C_FRAME;
    ctx.lineWidth = 1;
    ctx.strokeRect(Math.round(a.left) - 0.5, Math.round(a.top) + 0.5, Math.round(a.right - a.left) + 1, Math.round(a.bottom - a.top) - 1);
    ctx.restore();
  },
};

function decoPlugin(label: string, labelDx: number) {
  return {
    id: "deco",
    afterDraw(chart: any) {
      const { ctx, chartArea: a } = chart;
      ctx.save();
      ctx.fillStyle = "#000";
      ctx.font = `24px ${FONT}`;
      ctx.textBaseline = "alphabetic";
      ctx.textAlign = "left";
      ctx.fillText(label, a.left + labelDx, a.top + 23.5);
      const lw = 123, lh = 60;
      const lx = Math.round(a.right) - lw, ly = Math.round(a.top);
      ctx.fillStyle = "#fff";
      ctx.fillRect(lx, ly, lw, lh);
      ctx.strokeStyle = C_FRAME;
      ctx.lineWidth = 1;
      ctx.strokeRect(lx + 0.5, ly + 0.5, lw, lh);
      const cols = [C_EXP, C_SC, C_FIT];
      ctx.font = `16px ${FONT}`;
      ctx.textBaseline = "middle";
      LEGEND_NAMES.forEach((name, i) => {
        const y = ly + 11.5 + i * 19.5;
        ctx.strokeStyle = cols[i];
        ctx.lineWidth = 1.5;
        ctx.beginPath();
        ctx.moveTo(lx + 3, y);
        ctx.lineTo(lx + 38, y);
        ctx.stroke();
        ctx.fillStyle = "#000";
        ctx.fillText(name, lx + 42, y + 1);
      });
      ctx.restore();
    },
  };
}

function baseOptions(pad: any, x: any, y: any) {
  return {
    responsive: false, animation: false, devicePixelRatio: 1, events: [],
    layout: { padding: pad },
    plugins: { legend: { display: false }, tooltip: { enabled: false }, title: { display: false } },
    scales: { x, y },
  };
}

type Spec = { key: string; left: number; top: number; width: number; height: number; config: any };

function buildSpecs(): Spec[] {
  const specs: Spec[] = [];
  PANELS.forEach((p) => {
    const c = p.col, rt = ROW_TOP[p.row];
    const W = COL_W[c];
    const yW = BOX_L[c] - COL_X[c];
    const padR = W - (BOX_R[c] - COL_X[c]);
    const xr = p.q ? [0.8, 7] : [0, 10];
    const xt = p.q ? X_TICKS_Q : X_TICKS_UQ;
    const xl = p.q ? X_LABELS_Q : X_LABELS_UQ;
    const tMain = p.q ? T_Q : T_UQ;
    const tSc = p.q ? SC_T_Q : SC_T_UQ;

    // main decay plot
    specs.push({
      key: p.letter + "main", left: COL_X[c], top: rt - 10, width: W, height: 217,
      config: {
        type: "line",
        data: {
          datasets: [
            line(pairs(tSc, p.sc), C_SC, 1.3, true),
            line(pairs(tMain, p.fit), C_FIT, 1.3, true),
            line(pairs(tMain, p.exp), C_EXP, 2, true),
          ],
        },
        options: baseOptions(
          { top: 10, left: 0, right: padR, bottom: 0 },
          axis({ min: xr[0], max: xr[1], ticks: xt, labels: xl, size: 6, horizontal: true, fontSize: 15, showLabels: false, tickLen: 5, pad: 0 }),
          axis({
            min: p.yMain[0], max: p.yMain[1], ticks: p.q ? Y_TICKS_Q : Y_TICKS_UQ, labels: p.q ? Y_LABELS_Q : Y_LABELS_UQ,
            size: yW, horizontal: false, fontSize: 16, showLabels: true, tickLen: 4, pad: 2,
            title: { display: true, text: "Photon counts", color: "#000", font: { family: FONT, size: 22, lineHeight: 1.2 }, padding: { top: c === 0 ? 10.8 : 20.8, bottom: 0 } },
          })
        ),
        plugins: [framePlugin, decoPlugin(p.label, c === 0 ? 61 : 76)],
      },
    });

    // residuals
    specs.push({
      key: p.letter + "res", left: COL_X[c], top: rt + 221 - 8, width: W, height: 52,
      config: {
        type: "line",
        data: { datasets: [line(channels(p.q ? RES_SPAN_Q : RES_SPAN_UQ, p.res), "#000", 1.1)] },
        options: baseOptions(
          { top: 8, left: 0, right: padR, bottom: 0 },
          axis({ min: xr[0], max: xr[1], ticks: xt, labels: xl, size: 5, horizontal: true, fontSize: 15, showLabels: false, tickLen: 3, pad: 0 }),
          axis({ min: p.yRes[0], max: p.yRes[1], ticks: RES_TICKS, labels: RES_LABELS, size: yW, horizontal: false, fontSize: 15, showLabels: true, tickLen: 3, pad: 2 })
        ),
        plugins: [framePlugin],
      },
    });

    // autocorrelation
    specs.push({
      key: p.letter + "ac", left: COL_X[c], top: rt + 280 - 8, width: W, height: 98,
      config: {
        type: "line",
        data: {
          datasets: [
            line(channels(p.q ? AC_SPAN_Q : AC_SPAN_UQ, p.ac), "#000", 1.1),
            line(pairs(p.q ? AC_TAIL_Q : AC_TAIL_UQ, AC_TAIL_V), "#333", 1),
          ],
        },
        options: baseOptions(
          { top: 8, left: 0, right: padR, bottom: 0 },
          axis({
            min: xr[0], max: xr[1], ticks: xt, labels: xl, size: 52, horizontal: true, fontSize: 15, showLabels: true, tickLen: 4, pad: 0,
            title: { display: true, text: "Time (ns)", color: "#000", font: { family: FONT, size: 22, lineHeight: 1.2 }, padding: { top: 0, bottom: 1.8 } },
          }),
          axis({
            min: p.yAc[0], max: p.yAc[1], ticks: p.q ? AC_TICKS_Q : AC_TICKS_UQ, labels: p.q ? AC_LABELS_Q : AC_LABELS_UQ,
            size: yW, horizontal: false, fontSize: 15, showLabels: true, tickLen: 3, pad: 2,
          })
        ),
        plugins: [framePlugin],
      },
    });
  });
  return specs;
}

const SPECS = buildSpecs();

function CanvasChart({ spec }: { spec: Spec }) {
  const ref = useRef<HTMLCanvasElement | null>(null);
  useEffect(() => {
    const chart = new Chart(ref.current as HTMLCanvasElement, spec.config);
    return () => chart.destroy();
  }, [spec]);
  return (
    <canvas
      ref={ref}
      width={spec.width}
      height={spec.height}
      style={{ position: "absolute", left: spec.left, top: spec.top, width: spec.width, height: spec.height }}
    />
  );
}

const LETTER_POS: Record<string, number[]> = {
  A: [-2, 2], B: [411, 2], C: [0, 391], D: [411, 391], E: [1, 781], F: [413, 780],
};

export default function App() {
  return (
    <div style={{ position: "absolute", left: 0, top: 0, width: 800, height: 1205, background: "#fff", overflow: "hidden" }}>
      {SPECS.map((s) => (
        <CanvasChart key={s.key} spec={s} />
      ))}
      {PANELS.map((p) => (
        <div
          key={p.letter}
          style={{
            position: "absolute", left: LETTER_POS[p.letter][0], top: LETTER_POS[p.letter][1],
            fontFamily: FONT, fontWeight: "bold", fontSize: 60, lineHeight: "60px", color: "#000",
          }}
        >
          {p.letter}
        </div>
      ))}
    </div>
  );
}
